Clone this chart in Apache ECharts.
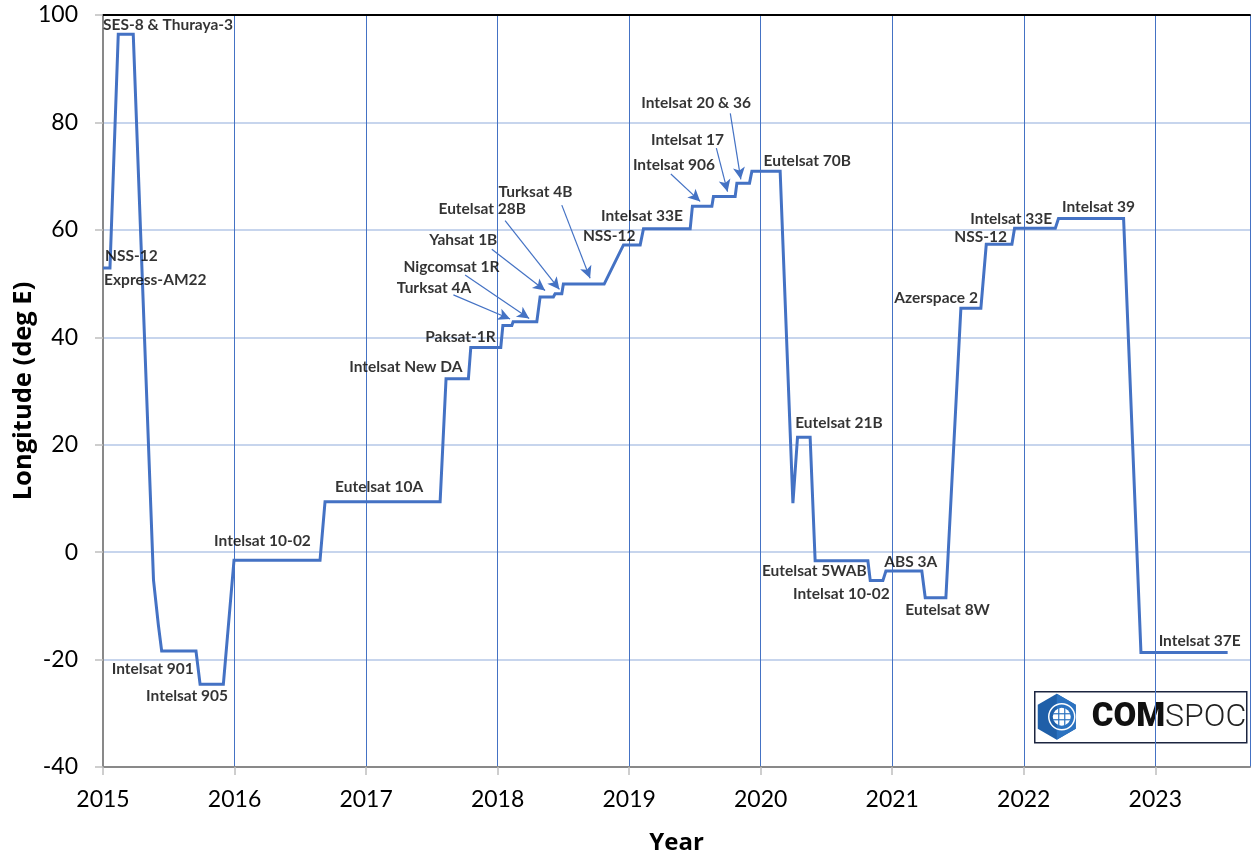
<!DOCTYPE html>
<html>
<head>
<meta charset="utf-8">
<script src="https://cdn.jsdelivr.net/npm/echarts@6/dist/echarts.min.js"></script>
<style>
html,body{margin:0;padding:0;background:#fff;}
#chart{width:1252px;height:856px;}
</style>
</head>
<body>
<div id="chart"></div>
<script>
// ---- Data ----
const lonYears = [2015.000, 2015.053, 2015.116, 2015.230, 2015.384, 2015.421, 2015.446, 2015.707, 2015.738, 2015.915,
  2015.996, 2016.650, 2016.688, 2017.563, 2017.608, 2017.778, 2017.796, 2018.024, 2018.040, 2018.108,
  2018.118, 2018.298, 2018.323, 2018.424, 2018.437, 2018.488, 2018.500, 2018.810, 2018.957, 2019.084,
  2019.109, 2019.464, 2019.481, 2019.629, 2019.641, 2019.806, 2019.819, 2019.915, 2019.933, 2020.148,
  2020.245, 2020.280, 2020.376, 2020.414, 2020.815, 2020.833, 2020.929, 2020.952, 2021.225, 2021.251,
  2021.408, 2021.522, 2021.674, 2021.715, 2021.910, 2021.930, 2022.240, 2022.264, 2022.759, 2022.891,
  2023.550];
const lonValues = [52.9, 52.9, 96.4, 96.4, -5.2, -13.6, -18.4, -18.4, -24.6, -24.6,
  -1.5, -1.5, 9.4, 9.4, 32.3, 32.3, 38.1, 38.1, 42.2, 42.2,
  42.9, 42.9, 47.5, 47.5, 48.1, 48.1, 49.9, 49.9, 57.2, 57.2,
  60.2, 60.2, 64.4, 64.4, 66.2, 66.2, 68.7, 68.7, 70.9, 70.9,
  9.1, 21.4, 21.4, -1.6, -1.6, -5.3, -5.3, -3.5, -3.5, -8.5,
  -8.5, 45.4, 45.4, 57.3, 57.3, 60.3, 60.3, 62.1, 62.1, -18.7,
  -18.7];

// Annotation labels (text left edge, vertical centre) in data coordinates
const annoNames = ['SES-8 & Thuraya-3', 'NSS-12', 'Express-AM22', 'Intelsat 901', 'Intelsat 905', 'Intelsat 10-02',
  'Eutelsat 10A', 'Intelsat New DA', 'Paksat-1R', 'Turksat 4A', 'Nigcomsat 1R', 'Yahsat 1B', 'Eutelsat 28B',
  'Turksat 4B', 'NSS-12', 'Intelsat 33E', 'Intelsat 906', 'Intelsat 17', 'Intelsat 20 & 36', 'Eutelsat 70B',
  'Eutelsat 21B', 'Eutelsat 5WAB', 'Intelsat 10-02', 'ABS 3A', 'Eutelsat 8W', 'Azerspace 2', 'NSS-12',
  'Intelsat 33E', 'Intelsat 39', 'Intelsat 37E'];
const annoX = [2015.000, 2015.015, 2015.008, 2015.066, 2015.327, 2015.844,
  2016.764, 2016.871, 2017.449, 2017.233, 2017.284, 2017.479, 2017.550,
  2018.006, 2018.648, 2018.785, 2019.028, 2019.165, 2019.091, 2020.021,
  2020.262, 2020.009, 2020.245, 2020.939, 2021.099, 2021.015, 2021.471,
  2021.593, 2022.290, 2023.025];
const annoY = [98.2, 55.1, 50.7, -21.7, -26.8, 2.1,
  12.1, 34.5, 40.1, 49.2, 53.0, 58.1, 63.8,
  67.1, 58.9, 62.5, 72.1, 76.7, 83.6, 72.9,
  24.1, -3.6, -7.8, -1.9, -10.8, 47.3, 58.6,
  62.0, 64.3, -16.5];

// Arrows (start -> tip) in data coordinates
const arrowFromX = [2017.664, 2017.753, 2017.956, 2018.057, 2018.488, 2019.317, 2019.663, 2019.769];
const arrowFromY = [47.9, 51.6, 56.4, 61.7, 64.6, 70.4, 75.2, 81.7];
const arrowToX   = [2018.095, 2018.240, 2018.361, 2018.470, 2018.703, 2019.540, 2019.748, 2019.849];
const arrowToY   = [43.4, 43.5, 48.7, 48.9, 51.0, 65.3, 67.1, 69.4];

const xTickLabels = ['2015','2016','2017','2018','2019','2020','2021','2022','2023'];

// ---- Build ----
const lineData = lonYears.map((x, i) => [x, lonValues[i]]);
const annoData = annoNames.map((n, i) => ({ name: n, value: [annoX[i], annoY[i]] }));
const arrowData = arrowFromX.map((x, i) => [
  { coord: [x, arrowFromY[i]] },
  { coord: [arrowToX[i], arrowToY[i]] }
]);

const FONT = 'Lato, "Open Sans", "Liberation Sans", sans-serif';
const NAMEFONT = '"Open Sans", Lato, "Liberation Sans", sans-serif';
const BLUE = '#4472C4';

const chart = echarts.init(document.getElementById('chart'), null, { renderer: 'canvas' });

const option = {
  animation: false,
  backgroundColor: '#ffffff',
  grid: { left: 103, right: 2, top: 15, bottom: 89, containLabel: false, outerBoundsMode: 'none' },
  xAxis: [{
    type: 'value',
    min: 2015, max: 2023.72, interval: 1,
    name: 'Year',
    nameLocation: 'middle',
    nameGap: 64,
    nameMoveOverlap: false,
    nameTextStyle: { fontFamily: NAMEFONT, fontWeight: 'bold', fontSize: 24, color: '#000' },
    axisLine: { show: true, onZero: false, lineStyle: { color: '#898989', width: 2 } },
    axisTick: { show: true, length: 8, lineStyle: { color: '#bfbfbf', width: 1.5 } },
    splitLine: { show: true, lineStyle: { color: BLUE, width: 1 } },
    axisLabel: {
      fontFamily: FONT, fontSize: 23, color: '#000', margin: 21,
      showMaxLabel: false,
      formatter: v => {
        const idx = Math.round(v) - 2015;
        return (Math.abs(v - Math.round(v)) < 1e-6 && xTickLabels[idx]) ? xTickLabels[idx] : '';
      }
    }
  }, {
    type: 'value',
    position: 'top',
    min: 2015, max: 2023.72,
    axisLine: { show: true, onZero: false, lineStyle: { color: '#000', width: 2 } },
    axisTick: { show: false },
    axisLabel: { show: false },
    splitLine: { show: false }
  }],
  yAxis: {
    type: 'value',
    min: -40, max: 100, interval: 20,
    name: 'Longitude (deg E)',
    nameLocation: 'middle',
    nameGap: 66,
    nameMoveOverlap: false,
    nameTextStyle: { fontFamily: NAMEFONT, fontWeight: 'bold', fontSize: 25.5, color: '#000' },
    axisLine: { show: true, onZero: false, lineStyle: { color: '#898989', width: 2 } },
    axisTick: { show: true, length: 8, lineStyle: { color: '#bfbfbf', width: 1.5 } },
    splitLine: { show: true, lineStyle: { color: '#B4C7E7', width: 1.5 } },
    axisLabel: { fontFamily: FONT, fontSize: 23, color: '#000', margin: 25 }
  },
  series: [
    {
      type: 'line',
      data: lineData,
      xAxisIndex: 0,
      showSymbol: false,
      symbol: 'none',
      lineStyle: { color: BLUE, width: 3, join: 'miter' },
      z: 3,
      silent: true,
      markLine: {
        silent: true,
        symbol: ['none', 'arrow'],
        symbolSize: [9, 12],
        label: { show: false },
        lineStyle: { color: BLUE, width: 1.2, type: 'solid' },
        emphasis: { disabled: true },
        data: arrowData
      }
    },
    {
      type: 'scatter',
      data: annoData,
      xAxisIndex: 0,
      symbolSize: 0.1,
      itemStyle: { color: 'rgba(0,0,0,0)' },
      silent: true,
      z: 5,
      label: {
        show: true,
        position: 'right',
        distance: 0,
        formatter: p => p.name,
        fontFamily: FONT,
        fontWeight: 'bold',
        fontSize: 15.5,
        color: '#000'
      },
      labelLayout: { hideOverlap: false }
    }
  ],
  graphic: [
    {
      type: 'group',
      left: 1034, top: 691,
      z: 100,
      children: [
        { type: 'rect', shape: { x: 0, y: 0, width: 212, height: 51 },
          style: { fill: '#fff', stroke: '#1c2540', lineWidth: 1.5 } },
        { type: 'polygon', shape: { points: [[22,2],[41,13],[41,37],[22,48],[3,37],[3,13]] },
          style: { fill: '#1f5fa8' } },
        { type: 'polygon', shape: { points: [[22,2],[41,13],[41,37],[22,48]] },
          style: { fill: '#2b72c0' } },
        { type: 'circle', shape: { cx: 27, cy: 25, r: 13 },
          style: { fill: 'none', stroke: '#ffffff', lineWidth: 1.5 } },
        { type: 'circle', shape: { cx: 27, cy: 25, r: 9 },
          style: { fill: '#ffffff' } },
        { type: 'line', shape: { x1: 18, y1: 22, x2: 36, y2: 22 }, style: { stroke: '#2b72c0', lineWidth: 1.2 } },
        { type: 'line', shape: { x1: 18, y1: 28, x2: 36, y2: 28 }, style: { stroke: '#2b72c0', lineWidth: 1.2 } },
        { type: 'line', shape: { x1: 24, y1: 16, x2: 24, y2: 34 }, style: { stroke: '#2b72c0', lineWidth: 1.2 } },
        { type: 'line', shape: { x1: 30, y1: 16, x2: 30, y2: 34 }, style: { stroke: '#2b72c0', lineWidth: 1.2 } },
        { type: 'text', x: 57, y: 26,
          style: {
            text: '{a|COM}{b|SPOC}',
            verticalAlign: 'middle',
            rich: {
              a: { fontFamily: 'Roboto, "DejaVu Sans", sans-serif', fontWeight: 900, fontSize: 33, fill: '#111' },
              b: { fontFamily: 'Roboto, Lato, sans-serif', fontWeight: 300, fontSize: 32, fill: '#222' }
            }
          } }
      ]
    }
  ]
};

chart.setOption(option);
</script>
</body>
</html>
